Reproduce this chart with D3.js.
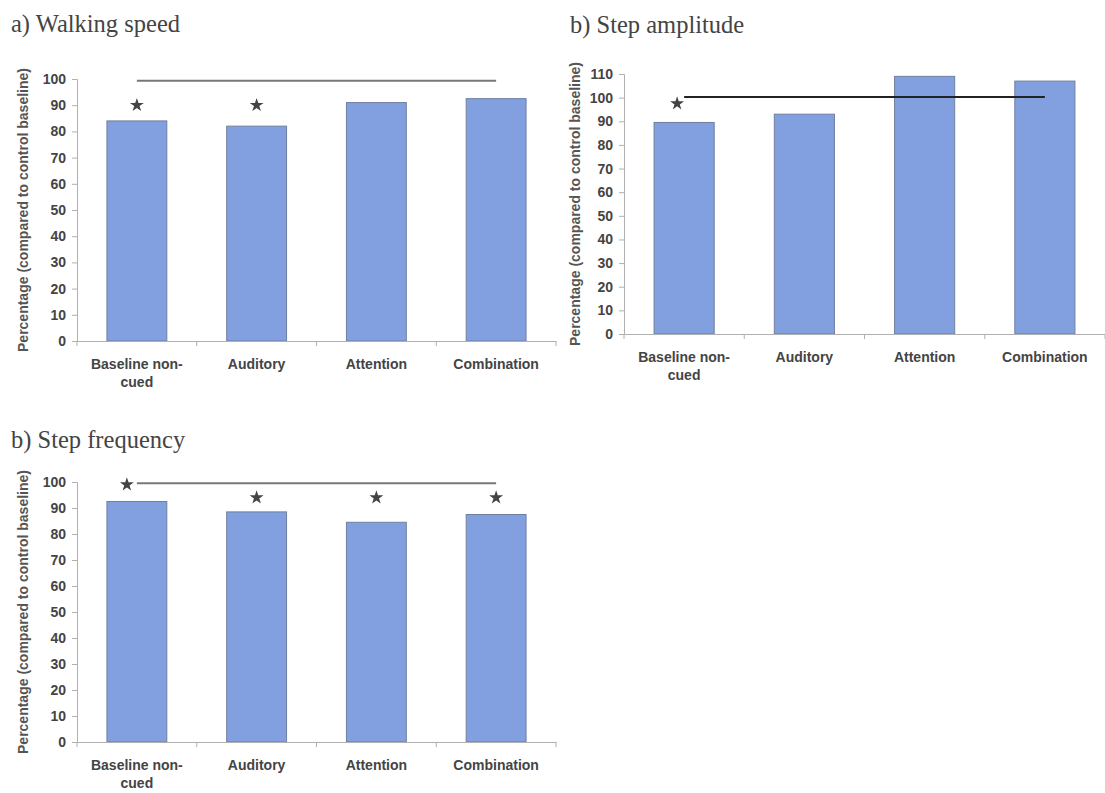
<!DOCTYPE html>
<html>
<head>
<meta charset="utf-8">
<script src="https://cdn.jsdelivr.net/npm/d3@7"></script>
<style>
  body { margin: 0; background: #fff; }
  svg { display: block; }
</style>
</head>
<body>
<svg id="chart" width="1105" height="793"></svg>
<script>
// ---- data ----
const categories = ["Baseline non-cued", "Auditory", "Attention", "Combination"];
const categoryLines = [["Baseline non-", "cued"], ["Auditory"], ["Attention"], ["Combination"]];

const speedValues = [84, 82, 91, 92.5];
const amplitudeValues = [89.5, 93, 109, 107];
const frequencyValues = [92.5, 88.5, 84.5, 87.5];

const speedTicks = [0, 10, 20, 30, 40, 50, 60, 70, 80, 90, 100];
const amplitudeTicks = [0, 10, 20, 30, 40, 50, 60, 70, 80, 90, 100, 110];
const frequencyTicks = [0, 10, 20, 30, 40, 50, 60, 70, 80, 90, 100];

// significance markers: value level of the star per category (null = none)
const speedStars = [90, 90, null, null];
const amplitudeStars = [97.5, null, null, null];
const frequencyStars = [99, 94, 94, 94];

// comparison line level (from first to last category)
const speedLine = 99.3;
const amplitudeLine = 100.3;
const frequencyLine = 99.5;

const titles = ["a) Walking speed", "b) Step amplitude", "b) Step frequency"];
const yLabel = "Percentage (compared to control baseline)";

// ---- drawing ----
const svg = d3.select("#chart");

function drawPanel(opt) {
  const g = svg.append("g");
  const x = d3.scaleBand().domain(categories).range([opt.left, opt.right]).paddingInner(0).paddingOuter(0);
  const y = d3.scaleLinear().domain([0, opt.max]).range([opt.bottom, opt.top]);
  const barW = x.bandwidth() * 0.5;

  // title
  g.append("text")
    .attr("x", opt.titleX).attr("y", opt.titleY)
    .attr("font-family", "'Liberation Serif', 'Times New Roman', serif")
    .attr("font-size", 24.5)
    .attr("fill", "#444")
    .text(opt.title);

  // y axis
  const yAxis = d3.axisLeft(y).tickValues(opt.ticks).tickSize(5).tickPadding(6).tickFormat(d3.format("d"));
  const ya = g.append("g").attr("transform", `translate(${opt.left},0)`).call(yAxis);
  ya.select(".domain").attr("stroke", "#b0b0b0");
  ya.selectAll(".tick line").attr("stroke", "#b0b0b0");
  ya.selectAll(".tick text")
    .attr("font-family", "'Liberation Sans', Arial, sans-serif")
    .attr("font-weight", "bold").attr("font-size", 14).attr("fill", "#444");

  // bars
  g.selectAll("rect.bar").data(opt.values).join("rect")
    .attr("class", "bar")
    .attr("x", (d, i) => x(categories[i]) + (x.bandwidth() - barW) / 2)
    .attr("width", barW)
    .attr("y", d => y(d))
    .attr("height", d => y(0) - y(d))
    .attr("fill", "#82a0e0")
    .attr("stroke", "#6f7f9f")
    .attr("stroke-width", 1);

  // x axis
  const xAxis = d3.axisBottom(x).tickSize(0).tickFormat("");
  const xa = g.append("g").attr("transform", `translate(0,${opt.bottom})`).call(xAxis);
  xa.select(".domain").attr("stroke", "#b0b0b0");
  // category boundary ticks
  const bounds = categories.map(c => x(c)).concat([opt.right]);
  g.selectAll("line.xt").data(bounds).join("line")
    .attr("class", "xt")
    .attr("x1", d => d).attr("x2", d => d)
    .attr("y1", opt.bottom).attr("y2", opt.bottom + 5)
    .attr("stroke", "#b0b0b0");

  // category labels
  categoryLines.forEach((lines, i) => {
    const t = g.append("text")
      .attr("x", x(categories[i]) + x.bandwidth() / 2)
      .attr("y", opt.bottom + 28)
      .attr("text-anchor", "middle")
      .attr("font-family", "'Liberation Sans', Arial, sans-serif")
      .attr("font-weight", "bold").attr("font-size", 14).attr("fill", "#444");
    lines.forEach((ln, k) => {
      t.append("tspan").attr("x", x(categories[i]) + x.bandwidth() / 2)
        .attr("dy", k === 0 ? 0 : 18).text(ln);
    });
  });

  // y label
  g.append("text")
    .attr("transform", `translate(${opt.yLabelX},${(opt.top + opt.bottom) / 2}) rotate(-90)`)
    .attr("text-anchor", "middle")
    .attr("dominant-baseline", "central")
    .attr("font-family", "'Liberation Sans', Arial, sans-serif")
    .attr("font-weight", "bold").attr("font-size", 14).attr("fill", "#555")
    .text(yLabel);

  // comparison line
  const c0 = x(categories[0]) + x.bandwidth() / 2;
  const c3 = x(categories[categories.length - 1]) + x.bandwidth() / 2;
  g.append("line")
    .attr("x1", c0).attr("x2", c3)
    .attr("y1", y(opt.line)).attr("y2", y(opt.line))
    .attr("stroke", opt.lineColor).attr("stroke-width", opt.lineWidth);

  // stars
  const star = d3.symbol().type(d3.symbolStar).size(60);
  opt.stars.forEach((s, i) => {
    if (s == null) return;
    const off = (opt.starOffset && opt.starOffset[i]) || 0;
    g.append("path")
      .attr("d", star())
      .attr("transform", `translate(${x(categories[i]) + x.bandwidth() / 2 + off},${y(s)})`)
      .attr("fill", "#444");
  });
}

drawPanel({
  title: titles[0], titleX: 11, titleY: 32,
  left: 77, right: 556, top: 79, bottom: 341, max: 100,
  ticks: speedTicks, values: speedValues, stars: speedStars,
  line: speedLine, lineColor: "#777", lineWidth: 2, yLabelX: 23
});

drawPanel({
  title: titles[1], titleX: 570, titleY: 33,
  left: 624, right: 1105, top: 74, bottom: 334, max: 110,
  ticks: amplitudeTicks, values: amplitudeValues, stars: amplitudeStars, starOffset: [-7, 0, 0, 0],
  line: amplitudeLine, lineColor: "#222", lineWidth: 2, yLabelX: 575
});

drawPanel({
  title: titles[2], titleX: 11, titleY: 448,
  left: 77, right: 556, top: 482, bottom: 742, max: 100,
  ticks: frequencyTicks, values: frequencyValues, stars: frequencyStars, starOffset: [-10, 0, 0, 0],
  line: frequencyLine, lineColor: "#777", lineWidth: 2, yLabelX: 23
});
</script>
</body>
</html>
